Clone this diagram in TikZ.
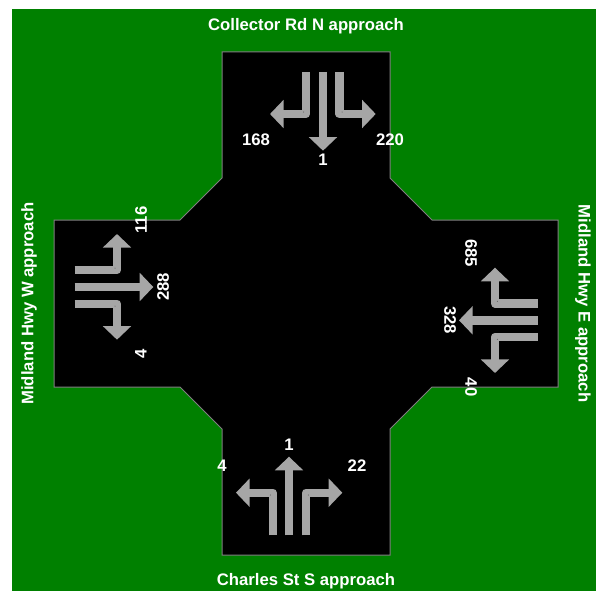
\documentclass[tikz,border=0pt]{standalone}
\usepackage{fontspec}
\setmainfont{Liberation Sans}
\usetikzlibrary{arrows.meta}
\definecolor{grass}{HTML}{008000}
\definecolor{lanegray}{HTML}{A6A6A6}
\definecolor{edgegray}{HTML}{808080}
\tikzset{
  lane/.style={draw=lanegray,line width=8.4pt,line join=round,
    -{Triangle[length=13.6pt,width=27.6pt,fill=lanegray,color=lanegray]}},
  pivot/.style={fill=black!70,circle,inner sep=0pt,minimum size=1pt},
  lab/.style={text=white,font=\fontsize{16.7}{18}\selectfont\bfseries,inner sep=0pt,anchor=center},
}
\begin{document}
\begin{tikzpicture}[x=1pt,y=-1pt]
\useasboundingbox (0,0) rectangle (596,591);
\fill[white] (0,0) rectangle (596,591);
\fill[grass] (12,9) rectangle (596,591);
\draw[fill=black,draw=edgegray,line width=1pt]
  (222,52) -- (390,52) -- (390,178) -- (432,220) -- (558,220) -- (558,387)
  -- (432,387) -- (390,429) -- (390,555) -- (222,555) -- (222,429)
  -- (180,387) -- (54,387) -- (54,220) -- (180,220) -- (222,178) -- cycle;
% north
\draw[lane] (306,72) -- (306,114) -- (270,114);
\draw[lane] (323,72) -- (323,150.7);
\draw[lane] (339.5,72) -- (339.5,114) -- (375.7,114);
\node[pivot] (pn1) at (303.5,112) {};
\node[pivot] (pn2) at (342,112) {};
% west
\draw[lane] (74.7,270) -- (117,270) -- (117,234);
\draw[lane] (74.7,287) -- (153.3,287);
\draw[lane] (74.7,303.7) -- (117,303.7) -- (117,339.7);
\node[pivot] (pw1) at (115,268) {};
\node[pivot] (pw2) at (115,306) {};
% east
\draw[lane] (537.7,303.5) -- (495,303.5) -- (495,267.7);
\draw[lane] (537.7,320.3) -- (459,320.3);
\draw[lane] (537.7,337) -- (495,337) -- (495,373);
\node[pivot] (pe1) at (497.3,301.3) {};
\node[pivot] (pe2) at (497.3,339.3) {};
% south
\draw[lane] (272.7,535.3) -- (272.7,492.7) -- (236,492.7);
\draw[lane] (289,535.3) -- (289,456.7);
\draw[lane] (306,535.3) -- (306,492.7) -- (342.3,492.7);
\node[pivot] (ps1) at (270.3,495) {};
\node[pivot] (ps2) at (308.3,495) {};
% titles
\node[lab] (tn) at (306,26.5) {Collector Rd N approach};
\node[lab] (ts) at (306,581.5) {Charles St S approach};
\node[lab,rotate=90] (tw) at (29,303.5) {Midland Hwy W approach};
\node[lab,rotate=-90] (te) at (583,303.5) {Midland Hwy E approach};
% counts
\node[lab] (n1) at (256,139.5) {168};
\node[lab] (n2) at (323,160) {1};
\node[lab] (n3) at (390,139.5) {220};
\node[lab] (s1) at (222,466) {4};
\node[lab] (s2) at (289,445) {1};
\node[lab] (s3) at (357,466) {22};
\node[lab,rotate=90] (w1) at (141,220) {116};
\node[lab,rotate=90] (w2) at (163,287) {288};
\node[lab,rotate=90] (w3) at (141,354) {4};
\node[lab,rotate=-90] (e1) at (471,253) {685};
\node[lab,rotate=-90] (e2) at (450,320) {328};
\node[lab,rotate=-90] (e3) at (471,387) {40};
\end{tikzpicture}
\end{document}
